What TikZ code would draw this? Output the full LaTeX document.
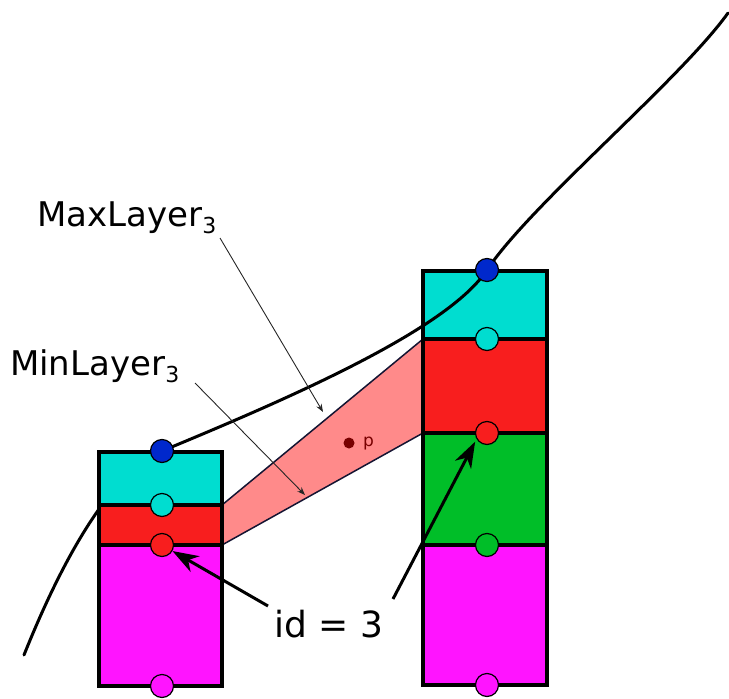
\documentclass[tikz,border=0pt]{standalone}
\usepackage{fontspec}
\setmainfont{DejaVu Sans}
\usetikzlibrary{arrows.meta}
\definecolor{cyanL}{RGB}{0,221,208}
\definecolor{redL}{RGB}{248,30,30}
\definecolor{magL}{RGB}{255,20,255}
\definecolor{greenL}{RGB}{0,190,40}
\definecolor{blueL}{RGB}{0,40,204}
\definecolor{pinkL}{RGB}{255,138,138}
\definecolor{navyL}{RGB}{20,20,50}
\definecolor{darkredL}{RGB}{120,0,0}
\newcommand\subthree{\raisebox{-7pt}{\fontsize{22}{22}\selectfont 3}}
\begin{document}
\begin{tikzpicture}[x=1pt,y=-1pt,
 layerbox/.style={draw=black,line width=3.5pt},
 knot/.style={circle,draw=black,line width=1.2pt,minimum size=23pt,inner sep=0pt},
 lbl/.style={anchor=base west,inner sep=0pt,font=\fontsize{34}{40}\selectfont},
 leader/.style={draw=black!85,line width=0.9pt,-{Stealth[length=8pt,width=6pt]}},
 bigarrow/.style={line width=3pt,-{Stealth[length=26pt,width=18pt,inset=8pt]}}
]
\useasboundingbox (0,0) rectangle (729,699);
% pink band
\filldraw[fill=pinkL,draw=navyL,line width=1.5pt,line join=round]
  (222,505) -- (423,339) -- (423,433) -- (222,545) -- cycle;
% right column
\filldraw[layerbox,fill=cyanL] (423,271) rectangle (547,339);
\filldraw[layerbox,fill=redL] (423,339) rectangle (547,433);
\filldraw[layerbox,fill=greenL] (423,433) rectangle (547,545);
\filldraw[layerbox,fill=magL] (423,545) rectangle (547,685);
% curve
\draw[line width=3pt,line cap=round]
  (24,655) .. controls (50,590) and (102,476) .. (162,451)
  .. controls (290,398) and (447,330) .. (487,270)
  .. controls (530,205) and (680,80) .. (728,13);
% left column
\filldraw[layerbox,fill=cyanL] (99,452) rectangle (222,505);
\filldraw[layerbox,fill=redL] (99,505) rectangle (222,545);
\filldraw[layerbox,fill=magL] (99,545) rectangle (222,686);
% knots
\node[knot,fill=blueL] (lb) at (162,451) {};
\node[knot,fill=cyanL] (lc) at (162,505) {};
\node[knot,fill=redL] (lr) at (162,545) {};
\node[knot,fill=magL] (lm) at (162,686) {};
\node[knot,fill=blueL] (rb) at (487,270) {};
\node[knot,fill=cyanL] (rc) at (487,339) {};
\node[knot,fill=redL] (rr) at (487,433) {};
\node[knot,fill=greenL] (rg) at (487,545) {};
\node[knot,fill=magL] (rm) at (487,685) {};
% point p
\node[circle,fill=darkredL,minimum size=11pt,inner sep=0pt] (pdot) at (349,443) {};
\node[anchor=base west,inner sep=0pt,text=darkredL,font=\fontsize{17}{17}\selectfont] (plab) at (363,446) {p};
% labels
\node[lbl] (maxl) at (37,226) {MaxLayer\subthree};
\node[lbl] (minl) at (10,375) {MinLayer\subthree};
\node[lbl,font=\fontsize{36}{40}\selectfont] (idl) at (274,637) {id = 3};
\coordinate (maxs) at (220,238);
\coordinate (maxt) at (323,412);
\coordinate (mins) at (195,383);
\coordinate (mint) at (305,495);
\draw[leader] (maxs) -- (maxt);
\draw[leader] (mins) -- (mint);
\coordinate (ids1) at (268,606);
\coordinate (ids2) at (393,599);
\draw[bigarrow] (ids1) -- (lr.-30);
\draw[bigarrow,shorten >=3pt] (ids2) -- (rr.210);
\end{tikzpicture}
\end{document}
